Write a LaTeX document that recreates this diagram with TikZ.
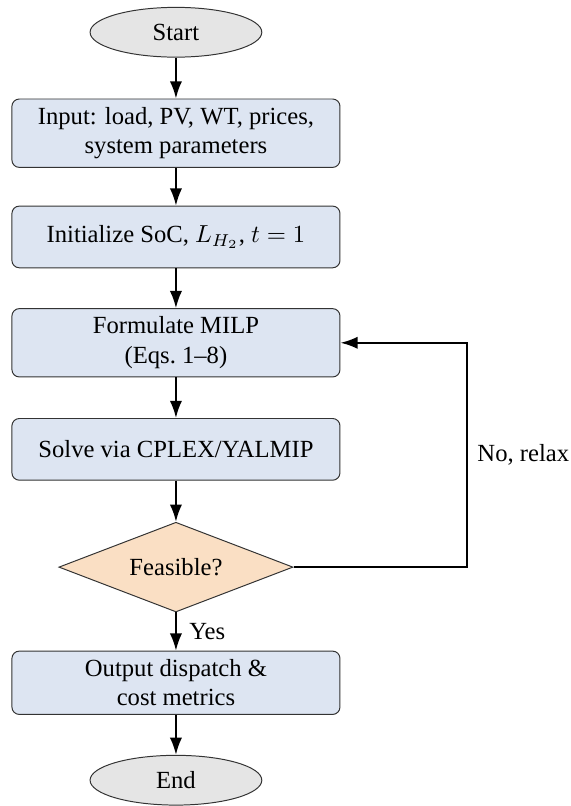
\documentclass[tikz,border=0pt]{standalone}
\usepackage{fontspec}
\setmainfont{Liberation Serif}
\usepackage{amsmath}
\usetikzlibrary{shapes.geometric,arrows.meta}
\definecolor{procfill}{RGB}{221,229,242}
\definecolor{decfill}{RGB}{250,223,196}

\begin{document}
\begin{tikzpicture}[
	terminal/.style={ellipse, fill=gray!20, draw=black!80, minimum width=2.45cm, minimum height=0.71cm, inner sep=0pt},
	process/.style={rectangle, rounded corners=3pt, fill=procfill, draw=black!80, minimum width=4.68cm, minimum height=0.88cm, align=center},
	decision/.style={diamond, aspect=2.6, fill=decfill, draw=black!80, minimum width=3.34cm, minimum height=1.28cm, inner sep=1pt},
	flow/.style={-{Latex[length=7pt,width=5pt]}, line width=0.8pt}
	]
	
	% --- AREA ---
	\useasboundingbox (0,0) rectangle (8.145,-11.498);
	
	% --- BLOCCHI ---
	\node[terminal] (start) at (2.51,-0.46) {Start};
	\node[process] (input) at (2.51,-1.90) {Input: load, PV, WT, prices,\\ system parameters};
	\node[process] (init) at (2.51,-3.38) {Initialize SoC, $L_{H_2}$, $t=1$};
	\node[process] (milp) at (2.51,-4.89) {Formulate MILP\\ (Eqs.~1--8)};
	\node[process] (solve) at (2.51,-6.41) {Solve via CPLEX/YALMIP};
	\node[decision] (feas) at (2.51,-8.09) {Feasible?};
	\node[process] (output) at (2.51,-9.74) {Output dispatch \&\\ cost metrics};
	\node[terminal] (stop) at (2.51,-11.13) {End};
	
	% --- FRECCE ---
	\draw[flow] (start) -- (input);
	\draw[flow] (input) -- (init);
	\draw[flow] (init) -- (milp);
	\draw[flow] (milp) -- (solve);
	\draw[flow] (solve) -- (feas);
	\draw[flow] (feas) -- node[right, inner sep=5pt] (yes) {Yes} (output);
	\draw[flow] (output) -- (stop);
	
	% ciclo di rilassamento
	\draw[flow] (feas.east) -- ++(2.47,0) |- node[pos=0.25, right, inner sep=4pt] (relax) {No, relax} (milp.east);
	
\end{tikzpicture}
\end{document}
